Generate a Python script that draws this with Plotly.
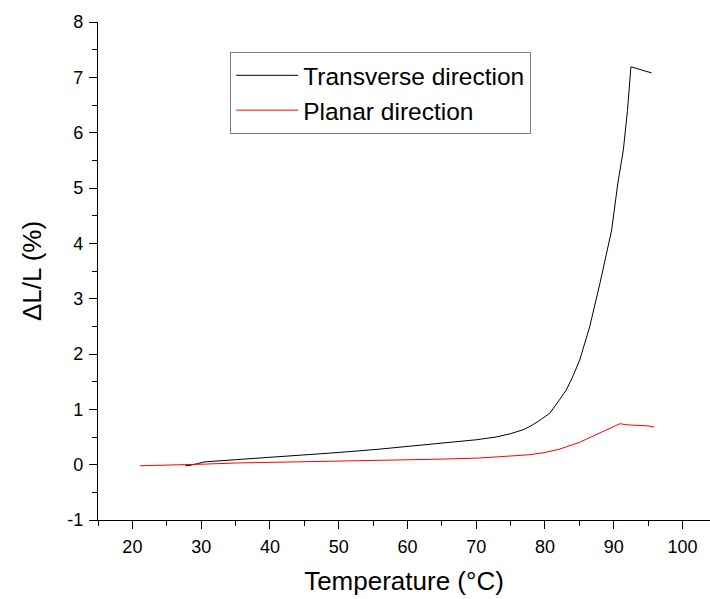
import plotly.graph_objects as go

# Transverse direction data
trans_T = [27.7, 28.5, 29.5, 30.5, 35, 40, 45, 50, 55.9, 60, 65.6, 70, 72.9, 75, 76.8, 77.8, 79,
           80.7, 82.1, 83.1, 84, 85.05, 86.5, 88, 89.7, 90.6, 91.4, 92, 92.5, 95.5]
trans_dL = [-0.02, -0.01, 0.02, 0.05, 0.09, 0.13, 0.18, 0.22, 0.28, 0.33, 0.40, 0.45, 0.50, 0.56,
            0.63, 0.69, 0.78, 0.93, 1.17, 1.35, 1.58, 1.89, 2.49, 3.28, 4.24, 5.09, 5.69, 6.4,
            7.19, 7.08]

# Planar direction data
plan_T = [21.1, 25, 29.7, 30.5, 35, 40, 45, 50, 55.9, 60, 65, 70.5, 75, 77.8, 80, 82.1, 84, 85,
          86, 88, 89.4, 90.9, 92, 95, 95.9]
plan_dL = [-0.02, -0.01, 0.0, 0.01, 0.03, 0.04, 0.05, 0.06, 0.07, 0.09, 0.10, 0.12, 0.15, 0.18,
           0.22, 0.28, 0.36, 0.40, 0.46, 0.58, 0.66, 0.74, 0.72, 0.70, 0.68]

x_tickvals = [20, 30, 40, 50, 60, 70, 80, 90, 100]
y_tickvals = [-1, 0, 1, 2, 3, 4, 5, 6, 7, 8]

FONT = "Liberation Sans, Arial, sans-serif"

fig = go.Figure()
fig.add_trace(go.Scatter(x=trans_T, y=trans_dL, mode="lines", name="Transverse direction",
                         line=dict(color="black", width=1)))
fig.add_trace(go.Scatter(x=plan_T, y=plan_dL, mode="lines", name="Planar direction",
                         line=dict(color="red", width=1)))

fig.update_layout(
    width=710, height=599,
    margin=dict(l=98, r=0, t=22, b=79),
    plot_bgcolor="white", paper_bgcolor="white",
    font=dict(family=FONT, color="black"),
    showlegend=True,
    legend=dict(x=0.216, y=0.94, xanchor="left", yanchor="top",
                bordercolor="#808080", borderwidth=1, bgcolor="white",
                itemwidth=62,
                font=dict(size=24.5, family=FONT), tracegroupgap=0),
)
fig.update_xaxes(
    range=[15, 104], tickvals=x_tickvals, ticktext=[str(v) for v in x_tickvals],
    automargin=False, ticklabelstandoff=2,
    showline=True, linecolor="black", linewidth=1.3, showgrid=False, zeroline=False,
    ticks="outside", ticklen=8, tickwidth=1.3, tickcolor="black",
    tickfont=dict(size=18),
    minor=dict(dtick=5, tick0=0, ticks="outside", ticklen=5, tickcolor="black", tickwidth=1.3),
    title=dict(text="Temperature (°C)", font=dict(size=26), standoff=16),
)
fig.update_yaxes(
    range=[-1, 8], tickvals=y_tickvals, ticktext=[str(v) for v in y_tickvals],
    automargin=False, ticklabelstandoff=2,
    showline=True, linecolor="black", linewidth=1.3, showgrid=False, zeroline=False,
    ticks="outside", ticklen=8, tickwidth=1.3, tickcolor="black",
    tickfont=dict(size=18),
    minor=dict(dtick=0.5, tick0=0, ticks="outside", ticklen=5, tickcolor="black", tickwidth=1.3),
    title=dict(text="ΔL/L (%)", font=dict(size=26), standoff=18),
)

fig.write_html("out.html", config={"displayModeBar": False},
               post_script="document.body.style.margin='0';document.body.style.overflow='hidden';")
